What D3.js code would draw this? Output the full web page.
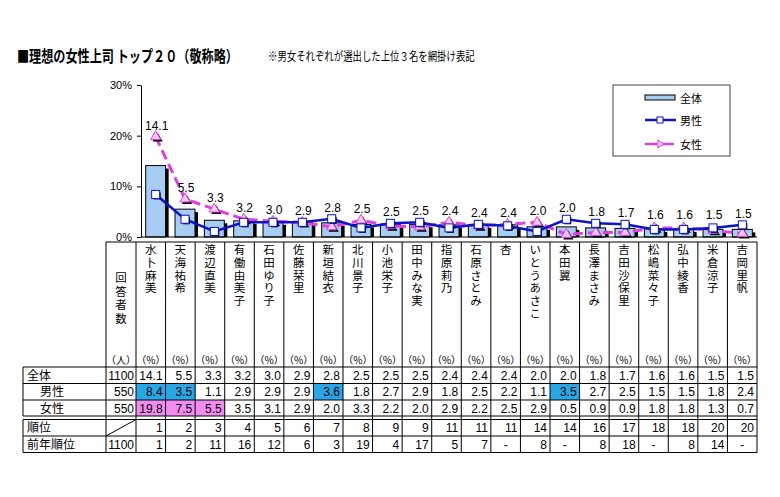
<!DOCTYPE html>
<html>
<head>
<meta charset="utf-8">
<script src="https://cdn.jsdelivr.net/npm/d3@7"></script>
<style>
  body { margin: 0; background: #fff; }
  svg text { font-family: "Liberation Sans", "Noto Sans CJK JP", sans-serif; }
  .jp { font-family: "Noto Sans CJK JP", sans-serif; }
</style>
</head>
<body>
<svg id="chart" width="780" height="497"></svg>
<script>
// data
const names = ["水卜麻美", "天海祐希", "渡辺直美", "有働由美子", "石田ゆり子", "佐藤栞里", "新垣結衣",
    "北川景子", "小池栄子", "田中みな実", "指原莉乃", "石原さとみ", "杏", "いとうあさこ", "本田翼",
    "長澤まさみ", "吉田沙保里", "松嶋菜々子", "弘中綾香", "米倉涼子", "吉岡里帆"]
const total = [14.1, 5.5, 3.3, 3.2, 3.0, 2.9, 2.8, 2.5, 2.5, 2.5, 2.4, 2.4, 2.4, 2.0, 2.0, 1.8, 1.7, 1.6, 1.6, 1.5, 1.5]
const male = [8.4, 3.5, 1.1, 2.9, 2.9, 2.9, 3.6, 1.8, 2.7, 2.9, 1.8, 2.5, 2.2, 1.1, 3.5, 2.7, 2.5, 1.5, 1.5, 1.8, 2.4]
const female = [19.8, 7.5, 5.5, 3.5, 3.1, 2.9, 2.0, 3.3, 2.2, 2.0, 2.9, 2.2, 2.5, 2.9, 0.5, 0.9, 0.9, 1.8, 1.8, 1.3, 0.7]
const rank = ["1", "2", "3", "4", "5", "6", "7", "8", "9", "9", "11", "11", "11", "14", "14", "16", "17", "18", "18", "20", "20"]
const prevRank = ["1", "2", "11", "16", "12", "6", "3", "19", "4", "17", "5", "7", "-", "8", "-", "8", "18", "-", "8", "14", "-"]
const respondents = [1100, 550, 550]
const yTicks = [0, 10, 20, 30]

const barFill = "#a8cdf2", maleColor = "#0a14c8", femaleColor = "#e040e0"
const maleHi = "#2aa6e6", femaleHi = "#f08cf0"

const svg = d3.select("#chart")
const n = names.length

// title + note, squeezed horizontally to the widths seen in the picture
const squeezed = (str, x0, y0, size, weight, width) => {
    const t = svg.append("text").attr("class", "jp").attr("font-size", size)
        .attr("font-weight", weight).text(str)
    const k = width / t.node().getComputedTextLength()
    t.attr("transform", `translate(${x0},${y0}) scale(${k},1)`)
}
squeezed("■理想の女性上司 トップ２０（敬称略）", 17, 62, 16, "bold", 221)
squeezed("※男女それぞれが選出した上位３名を網掛け表記", 268, 61, 12, "normal", 207)

// scales
const x = d3.scaleBand().domain(d3.range(n)).range([141, 757]).paddingInner(0.32).paddingOuter(0.16)
const y = d3.scaleLinear().domain([0, 30]).range([237, 85])
const col = d3.scaleBand().domain(d3.range(n)).range([136, 757])
const cx = i => x(i) + x.bandwidth() / 2

// y axis
const yAxis = svg.append("g").attr("transform", "translate(141,0)")
    .call(d3.axisLeft(y).tickValues(yTicks).tickFormat(d => d + "%").tickSize(4).tickSizeOuter(0))
yAxis.select(".domain").attr("stroke", "#000")
yAxis.selectAll("text").attr("font-size", 11).attr("font-family", "Liberation Sans, sans-serif").attr("dx", "-2")

// bars with shadow
const bars = svg.append("g")
bars.selectAll("rect.sh").data(total).join("rect").attr("class", "sh")
    .attr("x", (d, i) => x(i) + 3).attr("y", d => y(d) + 3)
    .attr("width", x.bandwidth()).attr("height", d => y(0) - y(d) - 3)
    .attr("fill", "#000")
bars.selectAll("rect.bar").data(total).join("rect").attr("class", "bar")
    .attr("x", (d, i) => x(i)).attr("y", d => y(d))
    .attr("width", x.bandwidth()).attr("height", d => y(0) - y(d))
    .attr("fill", barFill).attr("stroke", "#000").attr("stroke-width", 1)

// x axis line
svg.append("line").attr("x1", 141).attr("x2", 757).attr("y1", y(0)).attr("y2", y(0)).attr("stroke", "#000")

// lines
const line = d3.line().x((d, i) => cx(i)).y(d => y(d))
svg.append("path").datum(female).attr("d", line).attr("fill", "none")
    .attr("stroke", femaleColor).attr("stroke-width", 3).attr("stroke-dasharray", "10,5")
svg.append("path").datum(male).attr("d", line).attr("fill", "none")
    .attr("stroke", maleColor).attr("stroke-width", 2.5)

// markers
const tri = d3.symbol().type(d3.symbolTriangle).size(45)
const fm = svg.append("g")
fm.selectAll("path.sh").data(female).join("path").attr("class", "sh")
    .attr("transform", (d, i) => `translate(${cx(i) + 2},${y(d) + 2})`).attr("d", tri).attr("fill", "#000")
fm.selectAll("path.mk").data(female).join("path").attr("class", "mk")
    .attr("transform", (d, i) => `translate(${cx(i)},${y(d)})`).attr("d", tri)
    .attr("fill", "#f4c8f4").attr("stroke", femaleColor).attr("stroke-width", 1)
const mm = svg.append("g")
mm.selectAll("rect.sh").data(male).join("rect").attr("class", "sh")
    .attr("x", (d, i) => cx(i) - 2).attr("y", d => y(d) - 2).attr("width", 7).attr("height", 7).attr("fill", "#000")
mm.selectAll("rect.mk").data(male).join("rect").attr("class", "mk")
    .attr("x", (d, i) => cx(i) - 4).attr("y", d => y(d) - 4).attr("width", 8).attr("height", 8)
    .attr("fill", "#fff").attr("stroke", maleColor).attr("stroke-width", 1)

// value labels
svg.append("g").selectAll("text").data(total).join("text")
    .attr("x", (d, i) => cx(i) + 1)
    .attr("y", (d, i) => Math.min(y(Math.max(d, male[i], female[i])) - 7, 219))
    .attr("text-anchor", "middle").attr("font-size", 12)
    .text(d => d.toFixed(1))

// legend
const lg = svg.append("g")
lg.append("rect").attr("x", 613).attr("y", 85).attr("width", 117).attr("height", 71)
    .attr("fill", "#fff").attr("stroke", "#444")
lg.append("rect").attr("x", 645).attr("y", 95).attr("width", 30).attr("height", 5)
    .attr("fill", barFill).attr("stroke", "#000")
lg.append("line").attr("x1", 645).attr("x2", 676).attr("y1", 120).attr("y2", 120)
    .attr("stroke", maleColor).attr("stroke-width", 2.5)
lg.append("rect").attr("x", 657).attr("y", 117).attr("width", 6).attr("height", 6)
    .attr("fill", "#fff").attr("stroke", maleColor)
lg.append("line").attr("x1", 645).attr("x2", 676).attr("y1", 144).attr("y2", 144)
    .attr("stroke", femaleColor).attr("stroke-width", 2.5).attr("stroke-dasharray", "12,5")
lg.append("path").attr("transform", "translate(660,144) rotate(90)").attr("d", d3.symbol().type(d3.symbolTriangle).size(25))
    .attr("fill", "#f4c8f4").attr("stroke", femaleColor)
;[["全体", 99], ["男性", 121], ["女性", 145]].forEach(([t, yy]) => {
    lg.append("text").attr("class", "jp").attr("x", 680).attr("y", yy + 4).attr("font-size", 11).text(t)
})

// table
const tb = svg.append("g")
const rowsY = [367, 383.5, 400, 416]
const rows2Y = [419.5, 436, 452.5]
const L = 23, C0 = 106, R = 757, tableTop = 242
const hl = (x1, x2, yy) => tb.append("line").attr("x1", x1).attr("x2", x2).attr("y1", yy).attr("y2", yy).attr("stroke", "#000").attr("stroke-width", 1)
const vl = (xx, y1, y2) => tb.append("line").attr("x1", xx).attr("x2", xx).attr("y1", y1).attr("y2", y2).attr("stroke", "#000").attr("stroke-width", 1)

// highlight cells (top 3 for each gender)
const third = arr => [...arr].sort((a, b) => b - a)[2]
;[[male, maleHi, 1], [female, femaleHi, 2]].forEach(([arr, c, r]) => {
    const t3 = third(arr)
    arr.forEach((v, i) => {
        if (v >= t3) tb.append("rect").attr("x", col(i)).attr("y", rowsY[r])
            .attr("width", col.bandwidth()).attr("height", rowsY[r + 1] - rowsY[r]).attr("fill", c)
    })
})

hl(C0, R, tableTop)
rowsY.forEach(yy => hl(L, R, yy))
rows2Y.forEach(yy => hl(L, R, yy))
vl(L, rowsY[0], rowsY[3]); vl(L, rows2Y[0], rows2Y[2])
vl(C0, tableTop, 452.5)
d3.range(n + 1).forEach(i => vl(i < n ? col(i) : R, tableTop, 452.5))
// diagonal in rank count cell
tb.append("line").attr("x1", C0).attr("y1", rows2Y[1]).attr("x2", col(0)).attr("y2", rows2Y[0]).attr("stroke", "#000")

// vertical header texts (vertical writing mode)
const vert = (str, xx, y0, spacing) => {
    tb.append("text").attr("class", "jp")
        .attr("x", xx).attr("y", y0)
        .style("writing-mode", "vertical-rl")
        .attr("font-size", 11.5).attr("letter-spacing", spacing)
        .text(str)
}
vert("回答者数", (C0 + col(0)) / 2, 272, 2)
names.forEach((nm, i) => vert(nm, col(i) + col.bandwidth() / 2, 244, 1.2))

// unit row
tb.append("text").attr("class", "jp").attr("x", (C0 + col(0)) / 2).attr("y", 364).attr("text-anchor", "middle")
    .attr("font-size", 10).text("（人）")
names.forEach((d, i) => tb.append("text").attr("class", "jp").attr("x", col(i) + col.bandwidth() / 2).attr("y", 364)
    .attr("text-anchor", "middle").attr("font-size", 10).text("（%）"))

// row labels
const labelRows = [["全体", 27, rowsY[0]], ["男性", 40, rowsY[1]], ["女性", 40, rowsY[2]], ["順位", 27, rows2Y[0]], ["前年順位", 27, rows2Y[1]]]
labelRows.forEach(([t, xx, yy]) => tb.append("text").attr("class", "jp").attr("x", xx).attr("y", yy + 12.5).attr("font-size", 12).text(t))

const cell = (txt, i, yy) => {
    const isDash = txt === "-"
    tb.append("text").attr("x", isDash ? col(i) + col.bandwidth() / 2 : col(i) + col.bandwidth() - 3)
        .attr("y", yy + 12.5).attr("text-anchor", isDash ? "middle" : "end").attr("font-size", 12).text(txt)
}
// respondents
respondents.forEach((v, r) => tb.append("text").attr("x", col(0) - 2).attr("y", rowsY[r] + 12.5)
    .attr("text-anchor", "end").attr("font-size", 12).text(v))
tb.append("text").attr("x", col(0) - 2).attr("y", rows2Y[1] + 12.5).attr("text-anchor", "end").attr("font-size", 12).text(respondents[0])

;[total, male, female].forEach((arr, r) => arr.forEach((v, i) => cell(v.toFixed(1), i, rowsY[r])))
rank.forEach((v, i) => cell(v, i, rows2Y[0]))
prevRank.forEach((v, i) => cell(v, i, rows2Y[1]))
</script>
</body>
</html>
